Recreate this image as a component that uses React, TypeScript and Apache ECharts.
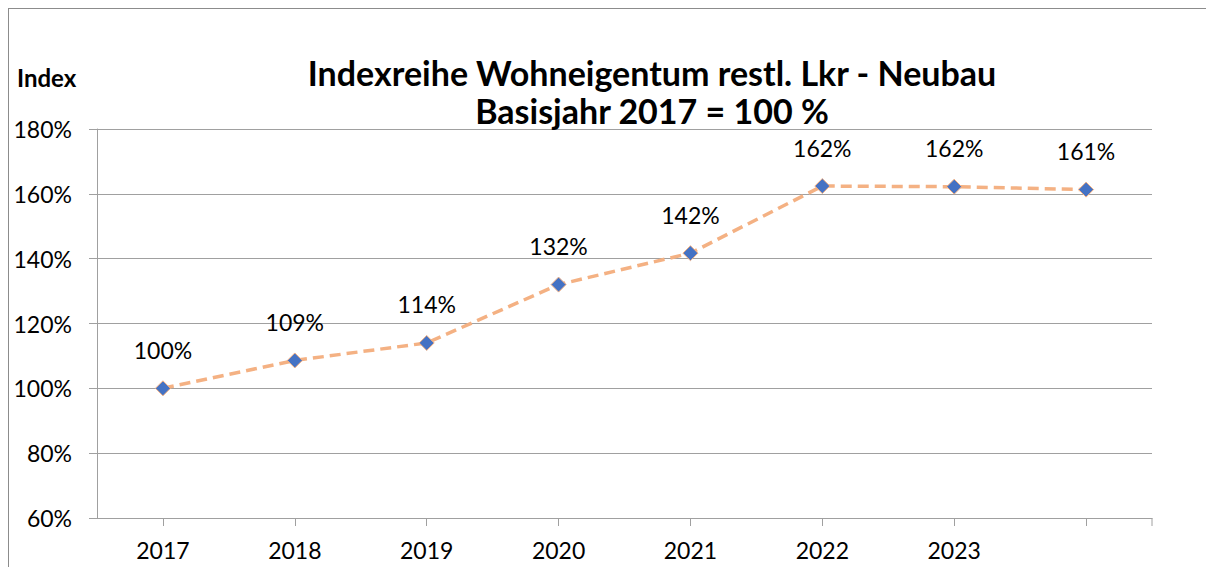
import React, { useEffect, useRef } from "react";
import * as echarts from "echarts";

const categories = ["2017", "2018", "2019", "2020", "2021", "2022", "2023", ""];
const indexValues = [100, 108.6, 114, 132, 141.7, 162.4, 162.2, 161.3];
const titleLines = ["Indexreihe Wohneigentum restl. Lkr - Neubau", "Basisjahr 2017 = 100 %"];
const yAxisLabel = "Index";

const FONT = "Lato, 'Open Sans', sans-serif";

export default function App() {
  const ref = useRef<HTMLDivElement>(null);
  useEffect(() => {
    if (!ref.current) return;
    const chart = echarts.init(ref.current, undefined, { renderer: "svg" });
    const W = chart.getWidth();
    const H = chart.getHeight();
    const gridLeft = 88;
    const gridRight = 62;
    const gridTop = 120;
    const gridBottom = 49;
    chart.setOption({
      animation: false,
      backgroundColor: "#ffffff",
      textStyle: { fontFamily: FONT },
      title: {
        text: titleLines.join("\n"),
        left: 638,
        top: 39,
        textAlign: "center",
        textStyle: {
          fontFamily: FONT,
          fontSize: 34,
          fontWeight: "bold",
          color: "#000000",
          lineHeight: 38,
        },
      },
      graphic: [
        {
          type: "text",
          left: 8,
          top: 56,
          style: {
            text: yAxisLabel,
            font: `bold 24px ${FONT}`,
            fill: "#000000",
          },
        },
        {
          type: "line",
          shape: { x1: W - gridRight, y1: H - gridBottom, x2: W - gridRight, y2: H - gridBottom + 8 },
          style: { stroke: "#a0a0a0", lineWidth: 1 },
          silent: true,
        },
      ],
      grid: { left: gridLeft, right: gridRight, top: gridTop, bottom: gridBottom, containLabel: false },
      xAxis: {
        type: "category",
        data: categories,
        boundaryGap: true,
        axisLine: { show: true, lineStyle: { color: "#a0a0a0", width: 1 } },
        axisTick: { show: true, alignWithLabel: true, length: 8, lineStyle: { color: "#a0a0a0" } },
        axisLabel: { color: "#000000", fontSize: 23, fontFamily: FONT, margin: 20 },
        splitLine: { show: false },
      },
      yAxis: {
        type: "value",
        min: 60,
        max: 180,
        interval: 20,
        axisLine: { show: true, lineStyle: { color: "#a0a0a0", width: 1 } },
        axisTick: { show: true, inside: false, length: 8, lineStyle: { color: "#a0a0a0" } },
        axisLabel: {
          color: "#000000",
          fontSize: 23,
          fontFamily: FONT,
          margin: 25,
          formatter: (v: number) => `${v}%`,
        },
        splitLine: { show: true, lineStyle: { color: "#a0a0a0", width: 1 } },
      },
      series: [
        {
          type: "line",
          data: indexValues,
          symbol: "diamond",
          symbolSize: 15,
          lineStyle: { color: "#F4B183", width: 3.5, type: [11, 6] },
          itemStyle: { color: "#4472C4", borderColor: "#F4B183", borderWidth: 1 },
          label: {
            show: true,
            position: "top",
            distance: 19,
            color: "#000000",
            fontSize: 23,
            fontFamily: FONT,
            formatter: (p: any) => `${Math.round(p.value)}%`,
          },
        },
      ],
    });
    return () => chart.dispose();
  }, []);
  return (
    <div
      style={{
        width: 1206,
        height: 559,
        boxSizing: "border-box",
        borderTop: "1px solid #8c8c8c",
        borderLeft: "1px solid #8c8c8c",
      }}
    >
      <div ref={ref} style={{ width: 1205, height: 558 }} />
    </div>
  );
}
